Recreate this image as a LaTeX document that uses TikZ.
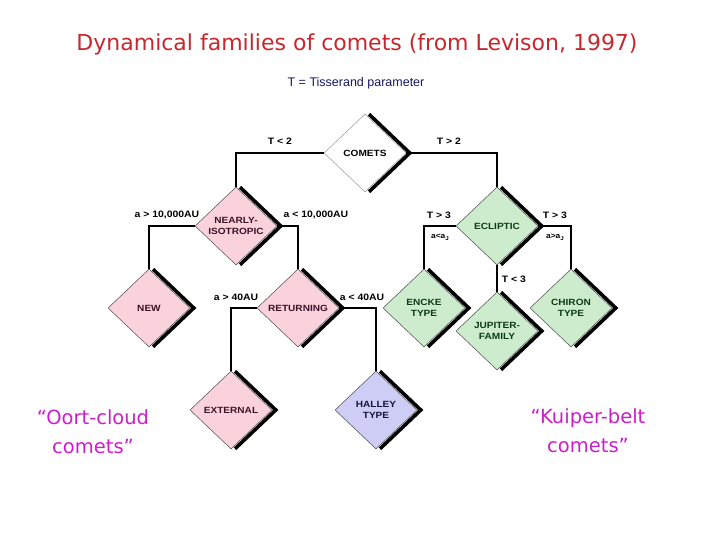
\documentclass[tikz,border=0pt]{standalone}
\usepackage{fontspec}
\setmainfont{Liberation Sans}
\newfontfamily\labfont[FakeStretch=1.12]{Liberation Sans}
\newfontfamily\titfont{DejaVu Sans}
\usetikzlibrary{shapes.geometric}
\definecolor{pinkf}{RGB}{250,210,220}
\definecolor{greenf}{RGB}{205,235,205}
\definecolor{lavf}{RGB}{205,205,245}
\definecolor{pinkt}{RGB}{60,20,40}
\definecolor{greent}{RGB}{15,60,20}
\definecolor{lavt}{RGB}{20,20,60}
\definecolor{titred}{RGB}{200,40,45}
\definecolor{subnavy}{RGB}{25,25,100}
\definecolor{oortmag}{RGB}{205,30,205}
\begin{document}
\begin{tikzpicture}[x=1pt,y=-1pt,
  famnode/.style={diamond,draw=black!70,line width=0.5pt,inner sep=0pt,
    minimum width=82pt,minimum height=78pt,align=center,
    font=\labfont\bfseries\fontsize{9}{10.5}\selectfont},
  pinknode/.style={famnode,fill=pinkf,text=pinkt},
  greennode/.style={famnode,fill=greenf,text=greent},
  lavnode/.style={famnode,fill=lavf,text=lavt},
  whitenode/.style={famnode,fill=white,draw=black!40,text=black},
  conn/.style={line width=2.8pt,black},
  shadowline/.style={line width=3.6pt,black,line join=miter},
  lab/.style={font=\labfont\bfseries\fontsize{9.3}{11}\selectfont,inner sep=0pt},
  sublab/.style={font=\labfont\bfseries\fontsize{7.5}{8}\selectfont,inner sep=0pt},
  bigtext/.style={font=\titfont\fontsize{19.5}{29}\selectfont,text=oortmag,align=center}]
\useasboundingbox[fill=white] (0,0) rectangle (720,540);

\node[whitenode] (comets) at (365,153) {COMETS};
\node[pinknode] (nearly) at (236,226) {NEARLY-\\ISOTROPIC};
\node[greennode] (ecliptic) at (497,226) {ECLIPTIC};
\node[pinknode] (new) at (149,308) {NEW};
\node[pinknode] (returning) at (298,308) {RETURNING};
\node[greennode] (encke) at (424,308) {ENCKE\\TYPE};
\node[greennode] (chiron) at (571,308) {CHIRON\\TYPE};
\node[greennode] (jupiter) at (497,331) {JUPITER-\\FAMILY};
\node[pinknode] (external) at (231,410) {EXTERNAL};
\node[lavnode] (halley) at (376,410) {HALLEY\\TYPE};

\draw[conn] (comets.west) -| (nearly.north);
\draw[conn] (comets.east) -| (ecliptic.north);
\draw[conn] (nearly.west) -| (new.north);
\draw[conn] (nearly.east) -| (returning.north);
\draw[conn] (returning.west) -| (external.north);
\draw[conn] (returning.east) -| (halley.north);
\draw[conn] (ecliptic.west) -| (encke.north);
\draw[conn] (ecliptic.east) -| (chiron.north);
\draw[conn] (ecliptic.south) -- (jupiter.north);

\foreach \n in {comets,nearly,ecliptic,new,returning,encke,chiron,jupiter,external,halley}{
  \draw[shadowline] ([shift={(4,0.5)}]\n.north) -- ([shift={(3.5,0)}]\n.east) -- ([shift={(4,-0.5)}]\n.south);
}

\node[lab] (lt2) at (280,141) {T < 2};
\node[lab] (gt2) at (449,141) {T > 2};
\node[lab] (agt10k) at (167,215) {a > 10,000AU};
\node[lab] (alt10k) at (316,215) {a < 10,000AU};
\node[lab] (gt3l) at (439,215) {T > 3};
\node[sublab] (aaJl) at (440,237) {a<a\raisebox{-0.4ex}{\fontsize{5.5}{6}\selectfont J}};
\node[lab] (gt3r) at (555,215) {T > 3};
\node[sublab] (aaJr) at (555,237) {a>a\raisebox{-0.4ex}{\fontsize{5.5}{6}\selectfont J}};
\node[lab] (lt3) at (514,279) {T < 3};
\node[lab] (agt40) at (236,297) {a > 40AU};
\node[lab] (alt40) at (362,297) {a < 40AU};

\node[font=\titfont\fontsize{22}{26}\selectfont,text=titred] (title) at (357,44) {Dynamical families of comets (from Levison, 1997)};
\node[font=\fontsize{12.5}{14}\selectfont,text=subnavy] (subtitle) at (356,83) {T = Tisserand parameter};
\node[bigtext] (oort) at (93,432) {“Oort-cloud\\comets”};
\node[bigtext] (kuiper) at (588,431) {“Kuiper-belt\\comets”};
\end{tikzpicture}
\end{document}
